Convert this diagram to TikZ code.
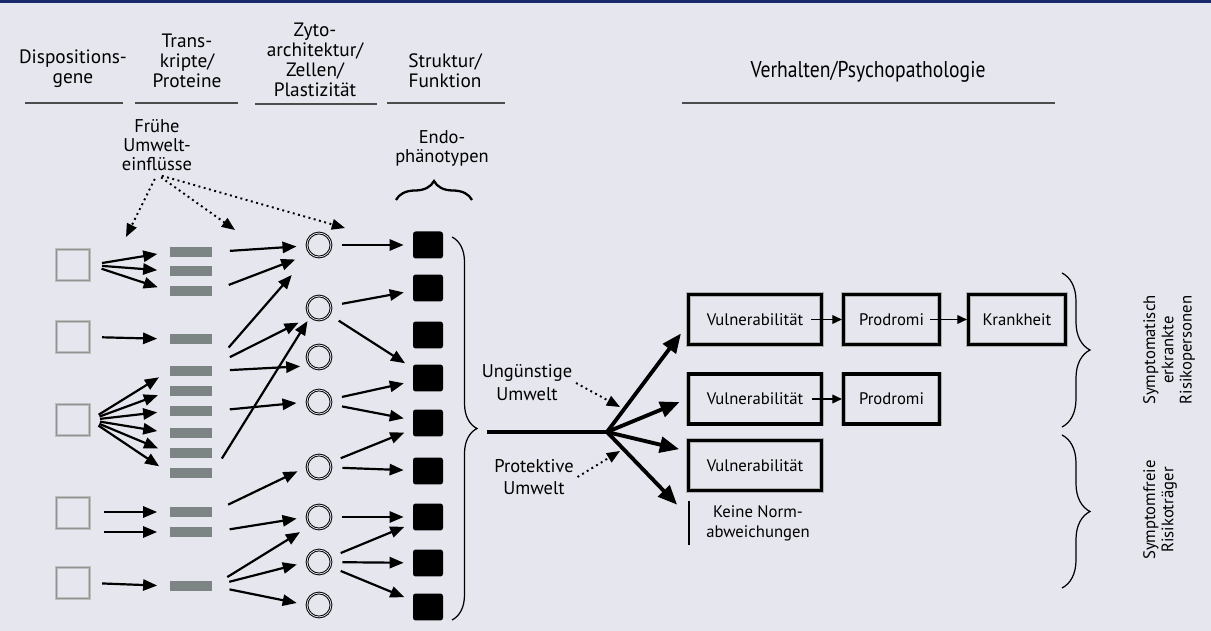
\documentclass[tikz,border=0pt]{standalone}
\usepackage{fontspec}
\setmainfont{PT Sans}
\newfontfamily\narrowsf{PT Sans}[FakeStretch=0.86]
\usetikzlibrary{arrows.meta,decorations.pathreplacing}
\definecolor{panelbg}{HTML}{E6E6EE}
\definecolor{panelband}{HTML}{1B2A6B}
\definecolor{barfill}{HTML}{7D8484}
\tikzset{
  linkarr/.style={-{Triangle[length=8pt,width=6.4pt]}, line width=1.25pt},
  envarr/.style={-{Triangle[length=7.5pt,width=6pt]}, line width=1.1pt, dotted},
  fatarr/.style={-{Triangle[length=11pt,width=9pt]}, line width=2.2pt},
  stagearr/.style={-{Triangle[length=5.5pt,width=5pt]}, line width=0.8pt},
  headrule/.style={draw=black!70, line width=0.7pt},
}

\begin{document}
\begin{tikzpicture}[
  x=0.02cm, y=-0.02cm,
  font=\fontsize{10}{11}\selectfont,
  head/.style={align=center, inner sep=1pt, font=\fontsize{11}{11.3}\selectfont},
  envtext/.style={align=center, inner sep=2pt, font=\fontsize{10.5}{10.8}\selectfont},
  gene/.style={draw=gray!50, line width=0.7pt, double=gray!85, double distance=0.6pt, minimum width=0.66cm, minimum height=0.62cm, inner sep=0pt},
  trans/.style={fill=barfill, minimum width=0.86cm, minimum height=0.2cm, inner sep=0pt},
  ring/.style={circle, draw, line width=0.55pt, double=panelbg, double distance=0.45pt, minimum size=0.48cm, inner sep=0pt},
  endo/.style={fill=black, rounded corners=1.5pt, minimum width=0.6cm, minimum height=0.54cm, inner sep=0pt},
  stage/.style={draw=black, line width=1.8pt, preaction={draw=gray!60, line width=2.7pt}, minimum height=1.0cm, inner sep=2pt, font=\fontsize{9.5}{11}\selectfont},
  normtext/.style={align=center, inner xsep=0.34cm, inner ysep=2pt, font=\fontsize{9.5}{11.4}\selectfont},
  sidetext/.style={align=center, inner sep=1pt, font=\fontsize{9.5}{10.4}\selectfont},
  bracket/.style={decorate, line width=0.7pt},
  g2b/.style={linkarr, shorten <=0.24cm, shorten >=0.24cm},
  b2c/.style={linkarr, shorten <=0.34cm, shorten >=0.2cm},
  c2e/.style={linkarr, shorten <=0.22cm, shorten >=0.18cm},
]
  \fill[panelbg] (0,0) rectangle (1211,631);
  \fill[panelband] (0,0) rectangle (1211,3);
  \useasboundingbox (0,0) rectangle (1211,631);

  \node[head] (hgene) at (73,69) {Dispositions-\\gene};
  \node[head] (htrans) at (187,61) {Trans-\\kripte/\\Proteine};
  \node[head] (hzyto) at (315,60) {Zyto-\\architektur/\\Zellen/\\Plastizität};
  \node[head] (hstruct) at (445,71) {Struktur/\\Funktion};
  \node[head, font=\narrowsf\fontsize{13}{14}\selectfont] (hverh) at (868,72) {Verhalten/Psychopathologie};
  \draw[headrule] (25,103) -- (123,103);
  \draw[headrule] (135,103) -- (238,103);
  \draw[headrule] (255,104) -- (377,104);
  \draw[headrule] (387,103) -- (505,103);
  \draw[headrule] (682,103) -- (1055,103);

  \node[envtext] (early) at (157,145) {Frühe\\Umwelt-\\einflüsse};
  \node[envtext] (endoph) at (442,148) {Endo-\\phänotypen};
  \draw[bracket, line width=1.3pt, decoration={brace, amplitude=0.38cm}] (396,200) -- (472,200);

  \node[gene] (g1) at (73,265) {};
  \node[gene] (g2) at (73,337) {};
  \node[gene] (g3) at (73,420) {};
  \node[gene] (g4) at (73,513) {};
  \node[gene] (g5) at (73,583) {};

  \node[trans] (b1) at (191,252) {};
  \node[trans] (b2) at (191,271) {};
  \node[trans] (b3) at (191,291) {};
  \node[trans] (b4) at (191,339) {};
  \node[trans] (b5) at (191,371) {};
  \node[trans] (b6) at (191,391) {};
  \node[trans] (b7) at (191,411) {};
  \node[trans] (b8) at (191,433) {};
  \node[trans] (b9) at (191,453) {};
  \node[trans] (b10) at (191,473) {};
  \node[trans] (b11) at (191,512) {};
  \node[trans] (b12) at (191,532) {};
  \node[trans] (b13) at (191,586) {};

  \node[ring] (c1) at (319,245) {};
  \node[ring] (c2) at (319,308) {};
  \node[ring] (c3) at (319,357) {};
  \node[ring] (c4) at (319,402) {};
  \node[ring] (c5) at (319,467) {};
  \node[ring] (c6) at (319,517) {};
  \node[ring] (c7) at (319,562) {};
  \node[ring] (c8) at (319,605) {};

  \node[endo] (e1) at (428,245) {};
  \node[endo] (e2) at (428,288) {};
  \node[endo] (e3) at (428,335) {};
  \node[endo] (e4) at (428,378) {};
  \node[endo] (e5) at (428,423) {};
  \node[endo] (e6) at (428,471) {};
  \node[endo] (e7) at (428,517) {};
  \node[endo] (e8) at (428,563) {};
  \node[endo] (e9) at (428,607) {};

  \draw[g2b] (g1.east) -- (b1.west);
  \draw[g2b] (g1.east) -- (b2.west);
  \draw[g2b] (g1.east) -- (b3.west);
  \draw[g2b] (g2.east) -- (b4.west);
  \draw[g2b, shorten <=0.2cm] (g3.east) -- (b5.west);
  \draw[g2b, shorten <=0.2cm] (g3.east) -- (b6.west);
  \draw[g2b, shorten <=0.2cm] (g3.east) -- (b7.west);
  \draw[g2b, shorten <=0.2cm] (g3.east) -- (b8.west);
  \draw[g2b, shorten <=0.2cm] (g3.east) -- (b9.west);
  \draw[g2b, shorten <=0.2cm] (g3.east) -- (b10.west);
  \draw[g2b, shorten <=0.28cm] (g4.east |- b11.west) -- (b11.west);
  \draw[g2b, shorten <=0.28cm] (g4.east |- b12.west) -- (b12.west);
  \draw[g2b] (g5.east) -- (b13.west);

  \draw[b2c] (b1.east) -- (c1);
  \draw[b2c, shorten >=0.32cm] (b3.east) -- (c1.south west);
  \draw[b2c, shorten <=0.48cm, shorten >=0.56cm] (b5.north east) -- (c1.south west);
  \draw[b2c, shorten <=0.38cm, shorten >=0.26cm] (b5.north east) -- (c2.south west);
  \draw[b2c] (b5.east) -- (c3.south west);
  \draw[b2c] (b7.east) -- (c4.west);
  \draw[b2c, shorten >=0.1cm] (b10.east) -- (c2.south west);
  \draw[b2c] (b11.east) -- (c5.west);
  \draw[b2c] (b12.east) -- (c6.west);
  \draw[b2c, shorten >=0.24cm] (b13.east) -- (c6.south west);
  \draw[b2c] (b13.east) -- (c7.west);
  \draw[b2c] (b13.east) -- (c8.west);

  \draw[c2e] (c1) -- (e1);
  \draw[c2e] (c2) -- (e2);
  \draw[c2e] (c2) -- (e4);
  \draw[c2e] (c4) -- (e4);
  \draw[c2e] (c4) -- (e5);
  \draw[c2e] (c5) -- (e5);
  \draw[c2e] (c5) -- (e6);
  \draw[c2e] (c6) -- (e7);
  \draw[c2e] (c7) -- (e7);
  \draw[c2e] (c7) -- (e8);
  \draw[c2e] (c7) -- (e9);

  \coordinate (genelink) at (126,237);
  \coordinate (translink) at (235,230);
  \coordinate (cytolink) at (345,228);
  \draw[envarr, shorten <=0.1cm] (early.south) -- (genelink);
  \draw[envarr, shorten <=0.1cm] (early.south) -- (translink);
  \draw[envarr, shorten <=0.1cm] (early.south) -- (cytolink);

  \draw[bracket, decoration={brace, amplitude=0.5cm}] (452,237) -- (452,620);
  \coordinate (endtip) at (487,432);
  \coordinate (fork) at (607,432);
  \draw[line width=2.2pt] (endtip) -- (fork);

  \node[align=center, inner sep=2pt, font=\fontsize{10.5}{13}\selectfont] (adverse) at (527,383) {Ungünstige\\Umwelt};
  \node[align=center, inner sep=2pt, font=\fontsize{10.5}{13}\selectfont] (protect) at (534,477) {Protektive\\Umwelt};
  \coordinate (worse) at (620,407);
  \coordinate (better) at (620,451);
  \draw[envarr] (adverse.east) -- (worse);
  \draw[envarr] (protect.east) -- (better);

  \node[stage, minimum width=2.66cm] (v1) at (755,319.5) {Vulnerabilität};
  \node[stage, minimum width=1.92cm] (p1) at (891.5,319.5) {Prodromi};
  \node[stage, minimum width=1.94cm] (k1) at (1017,319.5) {Krankheit};
  \node[stage, minimum width=2.66cm] (v2) at (755,399) {Vulnerabilität};
  \node[stage, minimum width=1.92cm] (p2) at (891.5,399) {Prodromi};
  \node[stage, minimum width=2.66cm] (v3) at (755,465.5) {Vulnerabilität};
  \node[normtext] (none) at (758,523) {Keine Norm-\\abweichungen};
  \draw[line width=1.5pt] (none.north west) -- (none.south west);

  \draw[stagearr] ([xshift=-0.24cm]v1.east) -- (p1.west);
  \draw[stagearr] ([xshift=-0.22cm]p1.east) -- (k1.west);
  \draw[stagearr] ([xshift=-0.22cm]v2.east) -- (p2.west);

  \draw[fatarr, shorten >=0.2cm] (fork) -- (v1.185);
  \draw[fatarr, shorten >=0.16cm] (fork) -- (v2.west);
  \draw[fatarr, shorten >=0.16cm] (fork) -- (v3.168);
  \draw[fatarr, shorten >=0.34cm] (fork) -- (none.175);

  \draw[bracket, decoration={brace, amplitude=0.56cm}] (1062,273) -- (1062,427);
  \draw[bracket, decoration={brace, amplitude=0.56cm}] (1062,435) -- (1062,588);
  \node[sidetext, rotate=90] (ill) at (1169,350) {Symptomatisch\\erkrankte\\Risikopersonen};
  \node[sidetext, rotate=90] (free) at (1160,510) {Symptomfreie\\Risikoträger};
\end{tikzpicture}
\end{document}
